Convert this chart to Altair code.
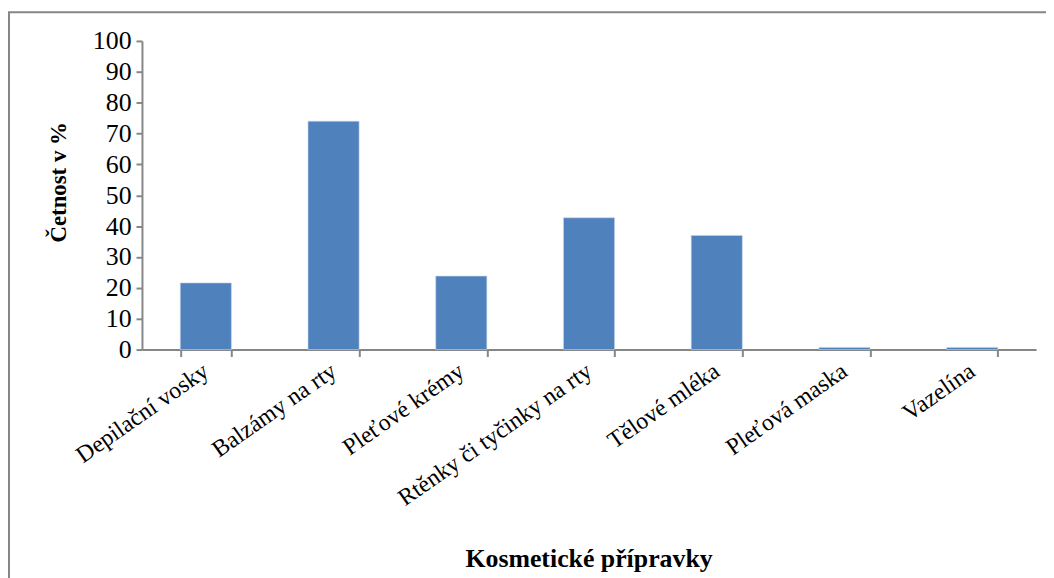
import altair as alt
import pandas as pd

categories = ["Depilační vosky", "Balzámy na rty", "Pleťové krémy",
              "Rtěnky či tyčinky na rty", "Tělové mléka", "Pleťová maska", "Vazelína"]
values = [21.6, 74.0, 23.8, 42.7, 37.0, 0.7, 0.7]

df = pd.DataFrame({"kat": categories, "val": values})
FONT = "Liberation Serif"
GRAY = "#868686"

bars = alt.Chart(df).mark_bar(color="#4F81BD", stroke="#C5D5EA", strokeWidth=0.6).encode(
    x=alt.X("kat:N", sort=categories,
            scale=alt.Scale(paddingInner=0.6, paddingOuter=0.3),
            axis=alt.Axis(title="Kosmetické přípravky", labelAngle=-35, labelAlign="right",
                          labelBaseline="middle", labelFont=FONT, labelFontSize=24,
                          labelColor="black", labelPadding=12, tickBand="extent",
                          tickSize=7, tickColor=GRAY, tickWidth=2, domainColor=GRAY,
                          domainWidth=2, titleFont=FONT, titleFontSize=26,
                          titleFontWeight="bold", titleColor="black",
                          titleX=450, titleY=219, titleBaseline="alphabetic",
                          titleAnchor="middle", titleAlign="center", labelLimit=400)),
    y=alt.Y("val:Q", scale=alt.Scale(domain=[0, 100]),
            axis=alt.Axis(title="Četnost v %", values=list(range(0, 101, 10)),
                          labelFont=FONT, labelFontSize=26, labelColor="black",
                          labelPadding=5, tickSize=6, tickColor=GRAY, tickWidth=2,
                          domainColor=GRAY, domainWidth=2, grid=False,
                          titleFont=FONT, titleFontSize=23, titleFontWeight="bold",
                          titleColor="black", titleX=-84, titleY=142, titleAngle=-90,
                          titleBaseline="middle", titleAlign="center")),
)

border = alt.Chart(pd.DataFrame({"a": [0]})).mark_rect(
    fill=None, stroke=GRAY, strokeWidth=2).encode(
    x=alt.value(-134), x2=alt.value(1100), y=alt.value(-29), y2=alt.value(700))

chart = alt.layer(bars, border).properties(
    width=901, height=311,
    padding={"left": 135, "top": 31, "right": 10, "bottom": 229},
    autosize=alt.AutoSizeParams(type="none"),
).configure_view(stroke=None)

chart.save("out.html", embed_options={"renderer": "svg", "actions": False})
